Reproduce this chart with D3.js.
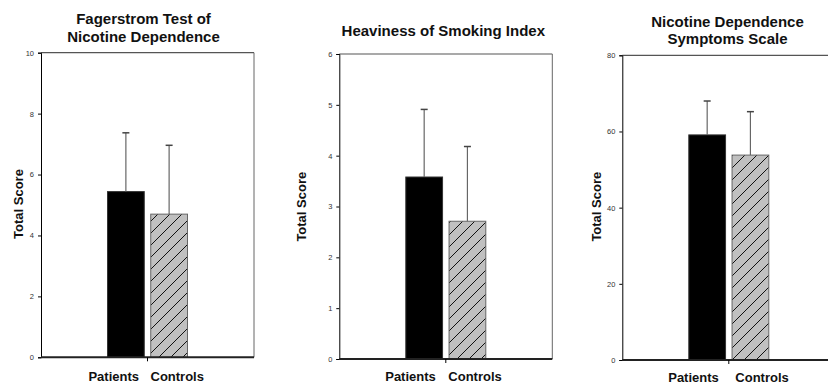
<!DOCTYPE html>
<html>
<head>
<meta charset="utf-8">
<script src="https://cdn.jsdelivr.net/npm/d3@7"></script>
<style>
  html, body { margin: 0; padding: 0; background: #fff; }
  svg { display: block; font-family: Arial, "Liberation Sans", sans-serif; }
</style>
</head>
<body>
<svg id="chart" width="828" height="384"></svg>
<script>
// ---- data ----
const categories = ["Patients", "Controls"];
const panelTitles = [
  ["Fagerstrom Test of", "Nicotine Dependence"],
  ["Heaviness of Smoking Index"],
  ["Nicotine Dependence", "Symptoms Scale"]
];
const yAxisTitle = "Total Score";
const meansFTND = [5.44, 4.70];
const sdFTND = [1.93, 2.26];
const meansHSI = [3.58, 2.71];
const sdHSI = [1.33, 1.47];
const meansNDSS = [59.1, 53.8];
const sdNDSS = [8.9, 11.4];
const yMax = [10, 6, 80];
const ticksFTND = [0, 2, 4, 6, 8, 10];
const ticksHSI = [0, 1, 2, 3, 4, 5, 6];
const ticksNDSS = [0, 20, 40, 60, 80];

const panelData = [
  { title: panelTitles[0], means: meansFTND, sd: sdFTND, max: yMax[0], ticks: ticksFTND },
  { title: panelTitles[1], means: meansHSI, sd: sdHSI, max: yMax[1], ticks: ticksHSI },
  { title: panelTitles[2], means: meansNDSS, sd: sdNDSS, max: yMax[2], ticks: ticksNDSS }
];

// ---- layout (pixels) ----
const layout = [
  { left: 41, top: 52.7, bottom: 357.3, titleY: [24, 42.4], titleX: 143.5, yLabX: 22.7, yLabY: 204, xLabY: 381, gapL: 8.5, gapR: 3 },
  { left: 339.3, top: 54, bottom: 359, titleY: [35.5], titleX: 443.3, yLabX: 305.7, yLabY: 206.7, xLabY: 381, gapL: 10, gapR: 2.5 },
  { left: 622.3, top: 55.3, bottom: 360, titleY: [26.7, 43.7], titleX: 727.5, yLabX: 600.7, yLabY: 206.7, xLabY: 382, gapL: 10, gapR: 6.5 }
];
const plotW = 213;

const svg = d3.select("#chart");
const defs = svg.append("defs");
const hw = 12;
const pat = defs.append("pattern")
  .attr("id", "hatch").attr("patternUnits", "userSpaceOnUse")
  .attr("width", hw).attr("height", hw);
pat.append("rect").attr("width", hw).attr("height", hw).attr("fill", "#c0c0c0");
pat.append("path")
  .attr("d", `M0,${hw} L${hw},0 M-2,2 L2,-2 M${hw - 2},${hw + 2} L${hw + 2},${hw - 2}`)
  .attr("stroke", "#111").attr("stroke-width", 1);

const fills = ["#000", "url(#hatch)"];
const outlines = ["#333", "#666"];

panelData.forEach((p, i) => {
  const L = layout[i];
  const right = L.left + plotW;
  const cx = L.left + plotW / 2;
  const g = svg.append("g");

  const y = d3.scaleLinear().domain([0, p.max]).range([L.bottom, L.top]);
  const x = d3.scaleBand().domain(categories).range([cx - 40, cx + 40]).paddingInner(0.15).paddingOuter(0);

  // frame: top and right
  g.append("line").attr("x1", L.left).attr("x2", right).attr("y1", L.top).attr("y2", L.top)
    .attr("stroke", "#555").attr("stroke-width", 1.2);
  g.append("line").attr("x1", right).attr("x2", right).attr("y1", L.top).attr("y2", L.bottom)
    .attr("stroke", "#666").attr("stroke-width", 1);

  // y axis
  const yAxis = d3.axisLeft(y).tickValues(p.ticks).tickSize(3).tickPadding(4).tickFormat(d3.format("d"));
  const ya = g.append("g").attr("transform", `translate(${L.left},0)`).call(yAxis);
  ya.select(".domain").attr("stroke", "#000").attr("stroke-width", 1);
  ya.selectAll(".tick line").attr("stroke", "#000");
  ya.selectAll(".tick text").attr("font-size", 7.5).attr("fill", "#333")
    .attr("font-family", "Arial, 'Liberation Sans', sans-serif");

  // bars
  g.selectAll("rect.bar").data(categories).enter().append("rect")
    .attr("class", "bar")
    .attr("x", d => x(d))
    .attr("width", x.bandwidth())
    .attr("y", (d, j) => y(p.means[j]))
    .attr("height", (d, j) => L.bottom - y(p.means[j]))
    .attr("fill", (d, j) => fills[j])
    .attr("stroke", (d, j) => outlines[j])
    .attr("stroke-width", 1);

  // error bars (upper only)
  categories.forEach((c, j) => {
    const bx = x(c) + x.bandwidth() / 2;
    const yt = y(p.means[j] + p.sd[j]);
    g.append("line").attr("x1", bx).attr("x2", bx).attr("y1", y(p.means[j])).attr("y2", yt)
      .attr("stroke", "#666").attr("stroke-width", 1.2);
    g.append("line").attr("x1", bx - 3.5).attr("x2", bx + 3.5).attr("y1", yt).attr("y2", yt)
      .attr("stroke", "#444").attr("stroke-width", 1.5);
  });

  // bottom axis
  g.append("line").attr("x1", L.left).attr("x2", right).attr("y1", L.bottom).attr("y2", L.bottom)
    .attr("stroke", "#222").attr("stroke-width", 2);
  g.append("line").attr("x1", cx).attr("x2", cx).attr("y1", L.bottom).attr("y2", L.bottom + 4)
    .attr("stroke", "#000").attr("stroke-width", 1);

  // x labels
  g.append("text").attr("x", cx - L.gapL).attr("y", L.xLabY).attr("text-anchor", "end")
    .attr("font-size", 13).attr("font-weight", "bold").attr("fill", "#111").text(categories[0]);
  g.append("text").attr("x", cx + L.gapR).attr("y", L.xLabY).attr("text-anchor", "start")
    .attr("font-size", 13).attr("font-weight", "bold").attr("fill", "#111").text(categories[1]);

  // y title
  g.append("text").attr("transform", `translate(${L.yLabX},${L.yLabY}) rotate(-90)`)
    .attr("text-anchor", "middle").attr("font-size", 13).attr("font-weight", "bold").attr("fill", "#111")
    .text(yAxisTitle);

  // title
  p.title.forEach((t, k) => {
    g.append("text").attr("x", L.titleX).attr("y", L.titleY[k]).attr("text-anchor", "middle")
      .attr("font-size", 15).attr("font-weight", "bold").attr("fill", "#111").text(t);
  });
});
</script>
</body>
</html>
